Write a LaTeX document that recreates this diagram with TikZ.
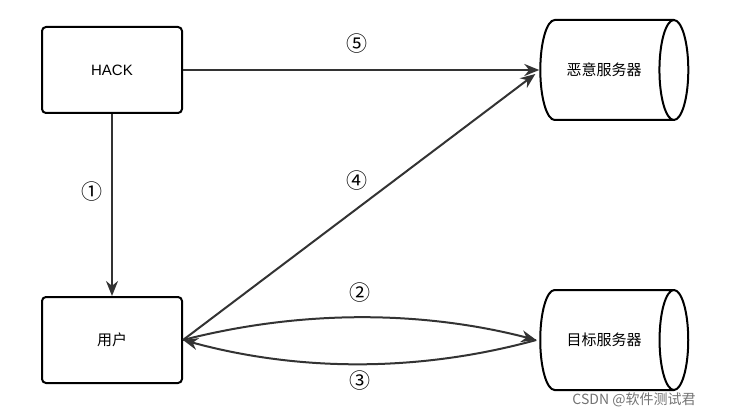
\documentclass[tikz,border=0pt]{standalone}
\usepackage{fontspec}
\setmainfont{Liberation Sans}
\newfontfamily\cjk{Noto Sans CJK SC}
\usetikzlibrary{shapes.geometric,arrows.meta}
\tikzset{
    box/.style={draw, line width=2pt, rounded corners=4pt, minimum width=140pt, minimum height=86pt, font=\fontsize{15}{18}\selectfont},
    server/.style={draw, line width=2pt, cylinder, shape aspect=1.4, minimum width=100pt, minimum height=148pt, font=\cjk\fontsize{15}{18}\selectfont},
    flow/.style={line width=2pt, draw=black!80, -{Stealth[length=15pt,width=12pt]}},
    step label/.style={font=\cjk\fontsize{21}{24}\selectfont}
}
\begin{document}
\begin{tikzpicture}[x=1pt,y=-1pt]
    \useasboundingbox (0,0) rectangle (729,417);

    % Boxes and servers
    \node[box] (hack) at (112,70) {HACK};
    \node[box] (user) at (112,340) {\cjk 用户};
    \node[server] (evil) at (604,70) {恶意服务器};
    \node[server] (target) at (604,340) {目标服务器};

    % Connectors
    \draw[flow] (hack.east) -- (evil.west);
    \draw[flow] (hack.south) -- (user.north);
    \draw[flow] (user.east) -- ([xshift=-4pt,yshift=-4pt]evil.west);
    \draw[flow] (user.east) .. controls (300,310) and (420,310) .. ([xshift=-3pt]target.west);
    \draw[flow] ([xshift=-3pt]target.west) .. controls (420,372) and (300,372) .. (user.east);

    % Step numbers
    \node[step label] (s5) at (357,44) {⑤};
    \node[step label] (s1) at (92,192) {①};
    \node[step label] (s4) at (357,181) {④};
    \node[step label] (s2) at (360,293) {②};
    \node[step label] (s3) at (360,381) {③};

    % Watermark
    \node[font=\cjk\fontsize{14}{16}\selectfont, text=black!55] (mark) at (634,400) {CSDN @软件测试君};
\end{tikzpicture}
\end{document}
